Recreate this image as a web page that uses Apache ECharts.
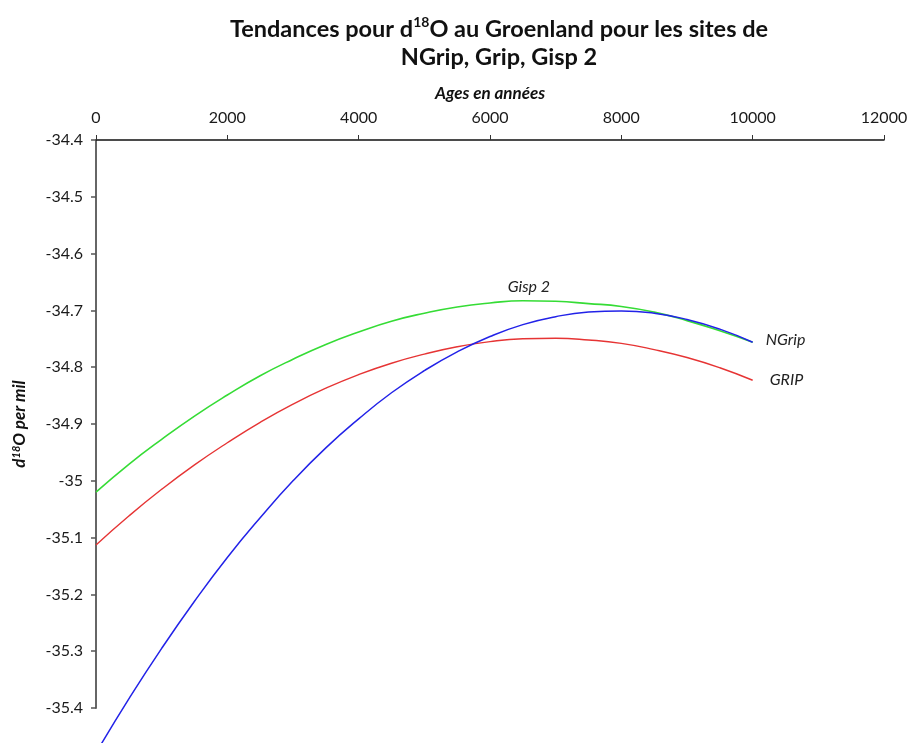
<!DOCTYPE html>
<html>
<head>
<meta charset="utf-8">
<title>Tendances pour d18O au Groenland</title>
<script src="https://cdn.jsdelivr.net/npm/echarts@6/dist/echarts.min.js"></script>
<style>
  html, body { margin: 0; padding: 0; background: #ffffff; }
  #chart { width: 916px; height: 743px; }
</style>
</head>
<body>
<div id="chart"></div>
<script>
// Age in years (x) for the trend curves
var years = [0, 500, 1000, 1500, 2000, 2500, 3000, 3500, 4000, 4500, 5000,
             5500, 6000, 6500, 7000, 7500, 8000, 8500, 9000, 9500, 10000];

// d18O trend values (per mil) for each core site
var gisp2 = [-35.020, -34.971, -34.927, -34.886, -34.849, -34.815, -34.786, -34.760, -34.738, -34.719, -34.705,
             -34.694, -34.687, -34.683, -34.684, -34.688, -34.693, -34.703, -34.718, -34.736, -34.756];
var grip  = [-35.113, -35.062, -35.015, -34.972, -34.933, -34.897, -34.865, -34.837, -34.813, -34.793, -34.777,
             -34.764, -34.755, -34.750, -34.749, -34.752, -34.758, -34.769, -34.783, -34.801, -34.823];
var ngrip = [-35.479, -35.384, -35.295, -35.212, -35.135, -35.065, -35.000, -34.942, -34.891, -34.845, -34.806,
             -34.773, -34.746, -34.725, -34.711, -34.703, -34.701, -34.705, -34.716, -34.733, -34.756];

var siteNames = ['Gisp 2', 'GRIP', 'NGrip'];
var siteColors = ['#35dc35', '#e63434', '#2222e8'];

var xTicks = { min: 0, max: 12000, step: 2000 };
var yTicks = { min: -35.4, max: -34.4, step: 0.1 };

var FONT = 'Lato, "Open Sans", sans-serif';

function pairs(values) {
  return years.map(function (x, i) { return [x, values[i]]; });
}

// Gisp 2 is labelled above its maximum, the others at their right end
var gispData = pairs(gisp2).map(function (p, i) {
  if (i === 13) {
    return {
      value: p,
      label: {
        show: true, position: 'top', distance: 6, offset: [6, 0],
        formatter: siteNames[0],
        fontFamily: FONT, fontStyle: 'italic', fontSize: 16, color: '#222'
      }
    };
  }
  return p;
});

var chart = echarts.init(document.getElementById('chart'), null, { renderer: 'canvas' });

chart.setOption({
  animation: false,
  backgroundColor: '#ffffff',
  title: {
    text: 'Tendances pour d{sup|18}O au Groenland pour les sites de\nNGrip, Grip, Gisp 2',
    left: 494, top: 10, textAlign: 'center',
    textStyle: {
      fontFamily: FONT, fontWeight: 'bold', fontSize: 23.5, color: '#111',
      lineHeight: 28,
      rich: {
        sup: { fontFamily: FONT, fontWeight: 'bold', fontSize: 14, color: '#111',
               verticalAlign: 'top', lineHeight: 28, padding: [0, 0, 8, 0] }
      }
    }
  },
  grid: { left: 96, right: 32, top: 140, bottom: 35, containLabel: false },
  xAxis: {
    type: 'value',
    position: 'top',
    min: xTicks.min, max: xTicks.max, interval: xTicks.step,
    name: 'Ages en années',
    nameLocation: 'middle', nameGap: 38,
    nameTextStyle: { fontFamily: FONT, fontStyle: 'italic', fontWeight: 'bold', fontSize: 17, color: '#111' },
    axisLine: { show: true, onZero: false, lineStyle: { color: '#111', width: 1.5 } },
    axisTick: { show: true, inside: false, length: 5, lineStyle: { color: '#333', width: 1 } },
    axisLabel: {
      margin: 14, fontFamily: FONT, fontSize: 16, color: '#1a1a1a',
      formatter: function (v) { return String(v); }
    },
    splitLine: { show: false }
  },
  yAxis: {
    type: 'value',
    min: yTicks.min, max: yTicks.max, interval: yTicks.step,
    name: 'd{sup|18}O per mil',
    nameLocation: 'middle', nameGap: 67, nameRotate: 90,
    nameTextStyle: {
      fontFamily: FONT, fontStyle: 'italic', fontWeight: 'bold', fontSize: 17, color: '#111',
      rich: {
        sup: { fontFamily: FONT, fontStyle: 'italic', fontWeight: 'bold', fontSize: 11, color: '#111',
               verticalAlign: 'top', padding: [0, 0, 7, 0] }
      }
    },
    axisLine: { show: true, onZero: false, lineStyle: { color: '#666', width: 2 } },
    axisTick: { show: true, inside: false, length: 5, lineStyle: { color: '#555', width: 1.5 } },
    axisLabel: {
      margin: 13, fontFamily: FONT, fontSize: 16, color: '#1a1a1a',
      formatter: function (v) { return String(Math.round(v * 10) / 10); }
    },
    splitLine: { show: false }
  },
  series: [
    {
      name: siteNames[0], type: 'line', data: gispData,
      smooth: true, showSymbol: true, symbol: 'circle', symbolSize: 0, clip: false,
      lineStyle: { color: siteColors[0], width: 1.6 },
      itemStyle: { color: siteColors[0] }
    },
    {
      name: siteNames[1], type: 'line', data: pairs(grip),
      smooth: true, showSymbol: false, symbol: 'none', clip: false,
      lineStyle: { color: siteColors[1], width: 1.4 },
      endLabel: { show: true, formatter: siteNames[1], distance: 17,
                  fontFamily: FONT, fontStyle: 'italic', fontSize: 16, color: '#222' }
    },
    {
      name: siteNames[2], type: 'line', data: pairs(ngrip),
      smooth: true, showSymbol: false, symbol: 'none', clip: false,
      lineStyle: { color: siteColors[2], width: 1.5 },
      endLabel: { show: true, formatter: siteNames[2], distance: 13, offset: [0, -2],
                  fontFamily: FONT, fontStyle: 'italic', fontSize: 16, color: '#222' }
    }
  ]
});
</script>
</body>
</html>
